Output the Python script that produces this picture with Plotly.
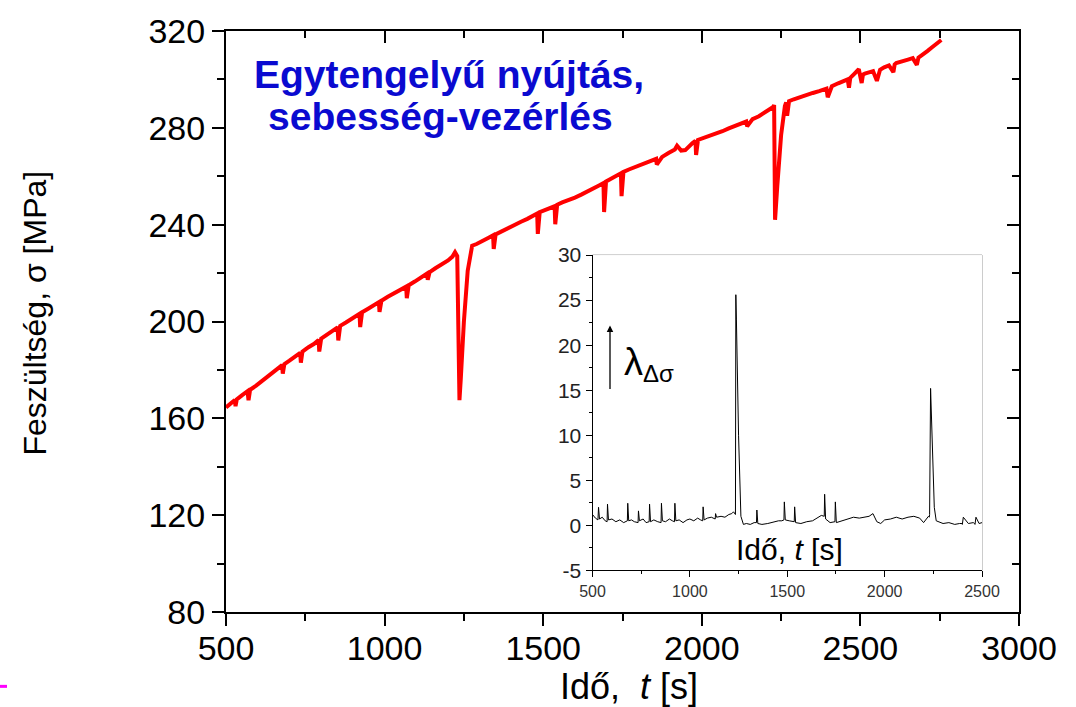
import plotly.graph_objects as go

# ---------------- main curve: stress vs time ----------------
t_main = [500, 515, 528, 530, 534, 550, 568, 571, 576, 595, 612, 626, 640, 660, 677, 679, 684, 700, 718,
          734, 736, 741, 760, 778, 792, 794, 800, 818, 838, 852, 854, 860, 878, 900, 921, 923, 929, 948,
          968, 982, 984, 990, 1010, 1030, 1050, 1068, 1070, 1076, 1095, 1115, 1134, 1136, 1142, 1160,
          1180, 1200, 1214, 1222, 1229, 1236, 1240, 1250, 1262, 1270, 1276, 1290, 1310, 1328, 1342,
          1344, 1350, 1370, 1390, 1410, 1430, 1450, 1468, 1481, 1483, 1489, 1505, 1520, 1536, 1538,
          1544, 1560, 1580, 1600, 1620, 1640, 1660, 1676, 1690, 1692, 1698, 1715, 1730, 1745, 1747,
          1753, 1770, 1790, 1810, 1830, 1850, 1856, 1858, 1875, 1895, 1915, 1922, 1935, 1948, 1958,
          1970, 1980, 1982, 1988, 2005, 2025, 2045, 2065, 2085, 2105, 2125, 2140, 2143, 2160, 2180,
          2200, 2215, 2225, 2228, 2231, 2238, 2250, 2262, 2266, 2269, 2275, 2290, 2310, 2330, 2350,
          2370, 2388, 2393, 2397, 2410, 2430, 2448, 2460, 2464, 2468, 2480, 2495, 2504, 2508, 2514,
          2525, 2540, 2552, 2558, 2562, 2575, 2590, 2604, 2608, 2613, 2630, 2650, 2665, 2678, 2683,
          2690, 2700, 2712, 2725, 2740, 2755, 2768]
s_main = [164.5, 166.0, 167.6, 165.0, 167.8, 169.5, 171.2, 167.5, 171.8, 173.5, 175.2, 176.8, 178.0,
          180.0, 182.0, 178.5, 182.4, 183.8, 185.3, 187.0, 183.0, 187.6, 189.4, 190.8, 192.4, 187.6,
          192.9, 194.4, 196.0, 197.6, 192.2, 198.2, 199.6, 201.6, 203.2, 197.7, 203.8, 205.3, 207.0,
          208.0, 204.0, 208.6, 210.2, 211.5, 212.8, 214.4, 209.6, 215.0, 216.5, 218.0, 219.8, 217.2,
          220.4, 222.0, 223.6, 225.2, 226.8, 228.6, 227.0, 167.5, 176.0, 200.0, 221.0, 228.5, 231.3,
          232.0, 233.6, 234.6, 235.6, 230.0, 236.0, 237.4, 238.6, 239.8, 241.2, 242.4, 243.8, 244.6,
          236.2, 245.2, 246.0, 246.8, 247.6, 240.2, 248.2, 249.2, 250.0, 251.2, 252.4, 253.6, 255.0,
          256.2, 257.2, 245.2, 257.8, 259.0, 260.2, 261.2, 251.8, 261.8, 262.8, 263.8, 264.6, 265.6,
          266.8, 267.2, 264.8, 268.0, 269.6, 271.0, 272.6, 270.6, 270.8, 272.2, 273.6, 274.6, 268.8,
          275.0, 275.8, 276.6, 277.4, 278.6, 279.8, 280.8, 282.0, 282.6, 280.6, 283.6, 284.8, 286.4,
          287.6, 288.6, 289.4, 242.0, 256.0, 277.0, 289.0, 290.5, 285.0, 291.0, 291.8, 292.8, 293.6,
          294.4, 295.2, 296.0, 296.2, 292.6, 297.2, 298.4, 299.4, 300.0, 296.6, 300.6, 302.2, 304.2,
          298.5, 302.0, 302.4, 303.0, 303.4, 299.4, 303.0, 304.0, 305.0, 305.8, 303.0, 306.2, 306.8,
          307.6, 308.2, 308.8, 306.0, 309.0, 309.6, 310.6, 311.8, 313.2, 314.8, 316.3]

# ---------------- inset: lambda_delta_sigma vs time ----------------
t_lam = [500, 515, 528, 531, 536, 550, 565, 575, 577, 582, 600, 620, 640, 660, 679, 681, 686, 700, 715,
         734, 736, 741, 760, 775, 791, 793, 798, 815, 835, 852, 854, 859, 875, 895, 910, 921, 923, 928,
         945, 965, 985, 1000, 1020, 1040, 1055, 1066, 1068, 1073, 1090, 1110, 1130, 1132, 1137, 1160,
         1180, 1200, 1215, 1224, 1234, 1236, 1239, 1250, 1262, 1275, 1290, 1310, 1330, 1342, 1344,
         1349, 1370, 1400, 1430, 1455, 1472, 1483, 1485, 1490, 1510, 1536, 1538, 1543, 1570, 1600,
         1630, 1660, 1675, 1690, 1692, 1697, 1720, 1745, 1747, 1752, 1780, 1810, 1840, 1870, 1900,
         1920, 1940, 1960, 1980, 2000, 2030, 2060, 2090, 2120, 2150, 2180, 2200, 2215, 2225, 2229,
         2231, 2236, 2245, 2255, 2265, 2280, 2300, 2330, 2360, 2385, 2397, 2399, 2404, 2430, 2455,
         2462, 2464, 2469, 2485, 2500]
lam = [1.2, 0.8, 0.6, 2.0, 0.7, 0.9, 0.5, 0.4, 2.35, 0.6, 0.7, 0.4, 0.6, 0.3, 0.5, 2.45, 0.5, 0.6,
       0.4, 0.3, 1.6, 0.5, 0.7, 0.3, 0.4, 2.35, 0.4, 0.6, 0.4, 0.3, 2.45, 0.5, 0.4, 0.7, 0.5, 0.4,
       2.45, 0.5, 0.6, 0.3, 0.6, 0.7, 0.5, 0.8, 0.6, 0.5, 2.05, 0.6, 0.8, 0.9, 0.7, 1.3, 0.9, 1.0,
       0.9, 1.2, 1.3, 1.5, 1.2, 25.6, 22.8, 10.0, 1.0, 0.1, 0.2, 0.1, 0.3, 0.3, 1.7, 0.2, 0.1, 0.2,
       0.4, 0.5, 0.5, 0.6, 2.6, 0.6, 0.5, 0.4, 2.05, 0.3, 0.2, 0.4, 0.5, 0.9, 1.1, 1.0, 3.45, 0.7,
       0.3, 0.4, 2.6, 0.3, 0.5, 0.7, 0.9, 0.8, 0.9, 1.0, 1.3, 0.4, 0.2, 0.6, 0.7, 0.9, 0.7, 0.9,
       1.0, 0.8, 0.3, 0.8, 1.0, 0.9, 1.2, 15.2, 8.0, 2.0, 0.5, 0.4, 0.2, 0.3, 0.1, 0.2, 0.2, 0.1,
       0.9, 0.2, 0.3, 0.2, 0.1, 0.9, 0.2, 0.3, 0.5]

main_ticks = [500, 1000, 1500, 2000, 2500, 3000]
sigma_ticks = [80, 120, 160, 200, 240, 280, 320]
inset_xticks = [500, 1000, 1500, 2000, 2500]
inset_yticks = [-5, 0, 5, 10, 15, 20, 25, 30]
inset_ytext = ["-5", "0", "5", "10", "15", "20", "25", "30"]

FONT = "Liberation Sans, Arial, sans-serif"
W, H = 1076, 707
L, R, T, B = 226, 57, 26, 95
PW, PH = W - L - R, H - T - B


def px2paper(x, y):
    return (x - L) / PW, (H - B - y) / PH


fig = go.Figure()
fig.add_trace(go.Scatter(x=t_main, y=s_main, mode="lines",
                         line=dict(color="#ff0000", width=4), showlegend=False,
                         hoverinfo="skip"))
# helper (empty) traces so the extra tick-only axes exist
for xa, ya in (("x3", "y"), ("x", "y3"), ("x4", "y")):
    fig.add_trace(go.Scatter(x=[None], y=[None], xaxis=xa, yaxis=ya, showlegend=False,
                             hoverinfo="skip"))
fig.add_trace(go.Scatter(x=t_lam, y=lam, mode="lines", xaxis="x2", yaxis="y2",
                         line=dict(color="#000000", width=1), showlegend=False,
                         hoverinfo="skip"))

ix0, iy0 = px2paper(592.5, 570)
ix1, iy1 = px2paper(982, 252)

axis_common = dict(showgrid=False, zeroline=False, showline=True, linecolor="black",
                   linewidth=2, tickcolor="black", tickwidth=2)

fig.update_layout(
    width=W, height=H, autosize=False,
    margin=dict(l=L, r=R, t=T, b=B, pad=0),
    paper_bgcolor="white", plot_bgcolor="white",
    font=dict(family=FONT, color="black"),
    xaxis=dict(range=[500, 3000], domain=[0, 1], anchor="y", tickmode="array",
               tickvals=main_ticks, ticks="outside", ticklen=5,
               minor=dict(dtick=250, tick0=500, ticks="outside", ticklen=7,
                          tickcolor="black", tickwidth=2),
               tickfont=dict(size=34, family=FONT), **axis_common),
    xaxis4=dict(range=[500, 3000], overlaying="x", side="bottom", anchor="y",
                tickmode="array", tickvals=main_ticks, ticks="outside", ticklen=12,
                showticklabels=False, **axis_common),
    yaxis=dict(range=[80, 320], domain=[0, 1], anchor="x", tickmode="array",
               tickvals=sigma_ticks, ticks="outside", ticklen=12,
               minor=dict(dtick=20, tick0=80, ticks="outside", ticklen=7,
                          tickcolor="black", tickwidth=2),
               tickfont=dict(size=34, family=FONT), **axis_common),
    xaxis3=dict(range=[500, 3000], overlaying="x", side="top", anchor="y",
                tickmode="array", tickvals=main_ticks, ticks="inside", ticklen=12,
                showticklabels=False,
                minor=dict(dtick=250, tick0=500, ticks="inside", ticklen=7,
                           tickcolor="black", tickwidth=2),
                **axis_common),
    yaxis3=dict(range=[80, 320], overlaying="y", side="right", anchor="x",
                tickmode="array", tickvals=sigma_ticks, ticks="inside", ticklen=12,
                showticklabels=False,
                minor=dict(dtick=20, tick0=80, ticks="inside", ticklen=7,
                           tickcolor="black", tickwidth=2),
                **axis_common),
    xaxis2=dict(range=[500, 2500], domain=[ix0, ix1], anchor="y2", tickmode="array",
                tickvals=inset_xticks, ticks="outside", ticklen=6, showgrid=False,
                zeroline=False, showline=True, linecolor="black", linewidth=1,
                tickcolor="black", tickwidth=1,
                minor=dict(dtick=250, tick0=500, ticks="outside", ticklen=3,
                           tickcolor="black", tickwidth=1),
                tickfont=dict(size=16, family=FONT, color="#333333")),
    yaxis2=dict(range=[-5, 30], domain=[iy0, iy1], anchor="x2", tickmode="array",
                tickvals=inset_yticks, ticktext=inset_ytext, ticks="outside", ticklen=6,
                showgrid=False, zeroline=False, showline=True, linecolor="black",
                linewidth=1, tickcolor="black", tickwidth=1,
                minor=dict(dtick=2.5, tick0=0, ticks="outside", ticklen=3,
                           tickcolor="black", tickwidth=1),
                tickfont=dict(size=21, family=FONT, color="#222222")),
)

# inset frame (top/right grey lines)
fig.add_shape(type="rect", xref="x2 domain", yref="y2 domain", x0=0, x1=1, y0=0, y1=1,
              line=dict(color="#9a9a9a", width=1), layer="below")

ann = []
# title text
x, y = px2paper(252, 70)
ann.append(dict(x=x, y=y, xref="paper", yref="paper", xanchor="left", yanchor="middle",
                text="<b>Egytengelyű nyújtás,</b>", showarrow=False,
                font=dict(size=39, color="#0a0ad0", family=FONT)))
x, y = px2paper(266, 112)
ann.append(dict(x=x, y=y, xref="paper", yref="paper", xanchor="left", yanchor="middle",
                text="<b>sebesség-vezérlés</b>", showarrow=False,
                font=dict(size=39, color="#0a0ad0", family=FONT)))
# main axis titles
x, y = px2paper(629, 687)
ann.append(dict(x=x, y=y, xref="paper", yref="paper", xanchor="center", yanchor="middle",
                text="Idő,\u00a0 <i>t</i> [s]", showarrow=False,
                font=dict(size=36, family=FONT)))
x, y = px2paper(35, 311)
ann.append(dict(x=x, y=y, xref="paper", yref="paper", xanchor="center", yanchor="middle",
                text="Feszültség, σ [MPa]", textangle=-90, showarrow=False,
                font=dict(size=32, family=FONT)))
# inset x title
x, y = px2paper(789, 549)
ann.append(dict(x=x, y=y, xref="paper", yref="paper", xanchor="center", yanchor="middle",
                text="Idő, <i>t</i> [s]", showarrow=False,
                font=dict(size=30, family=FONT)))
# lambda arrow + label
x, y = px2paper(610, 323)
ann.append(dict(x=x, y=y, xref="paper", yref="paper", ax=0, ay=65, text="",
                showarrow=True, arrowhead=2, arrowsize=1, arrowwidth=1.3,
                arrowcolor="black"))
x, y = px2paper(622, 362)
ann.append(dict(x=x, y=y, xref="paper", yref="paper", xanchor="left", yanchor="middle",
                text="<span style='font-size:38px'>λ</span>"
                     "<sub><span style='font-size:24px'>Δσ</span></sub>",
                showarrow=False, font=dict(size=32, family=FONT)))
fig.update_layout(annotations=ann)

# small magenta mark at lower left
x0, y0 = px2paper(0, 687)
x1, _ = px2paper(7, 687)
fig.add_shape(type="line", xref="paper", yref="paper", x0=x0, x1=x1, y0=y0, y1=y0,
              line=dict(color="#ff00ff", width=3))

fig.write_html("out.html", config={"displayModeBar": False},
               post_script="document.body.style.margin='0';document.body.style.padding='0';"
                           "document.documentElement.style.overflow='hidden';")
